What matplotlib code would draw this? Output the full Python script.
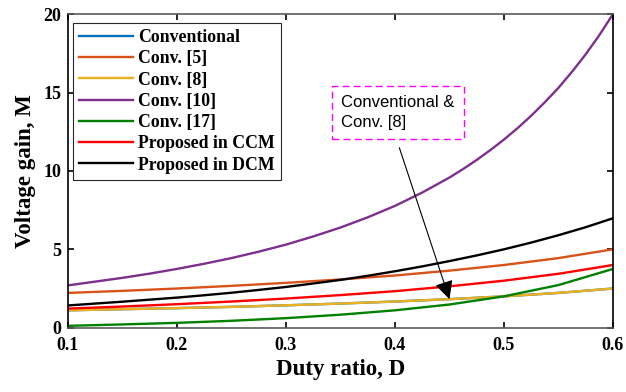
import matplotlib
matplotlib.use('Agg')
import matplotlib.pyplot as plt
import numpy as np

plt.rcParams['font.family'] = 'Liberation Serif'
plt.rcParams['font.weight'] = 'bold'

#duty ratio points
D = [0.10, 0.15, 0.20, 0.25, 0.30, 0.35, 0.40, 0.45, 0.50, 0.55, 0.60]
D_mid = [0.100, 0.125, 0.150, 0.175, 0.200, 0.225, 0.250, 0.275, 0.300, 0.325, 0.350,
         0.375, 0.400, 0.425, 0.450, 0.475, 0.500, 0.525, 0.550, 0.575, 0.600]
#finer grid for the steep curve
D_fine = [0.100, 0.125, 0.150, 0.175, 0.200, 0.225, 0.250, 0.275, 0.300, 0.325, 0.350,
          0.375, 0.400, 0.425, 0.450, 0.4625, 0.475, 0.4875, 0.500, 0.5125, 0.525,
          0.5375, 0.550, 0.5625, 0.575, 0.5875, 0.600]

#voltage gain of each converter
conventional = [1.11, 1.18, 1.25, 1.33, 1.43, 1.54, 1.67, 1.82, 2.00, 2.22, 2.50]
conv5 = [2.22, 2.35, 2.50, 2.67, 2.86, 3.08, 3.33, 3.64, 4.00, 4.44, 5.00]
conv8 = [1.11, 1.18, 1.25, 1.33, 1.43, 1.54, 1.67, 1.82, 2.00, 2.22, 2.50]
conv10 = [2.70, 2.94, 3.18, 3.45, 3.75, 4.08, 4.44, 4.85, 5.30, 5.82, 6.39,
          7.04, 7.77, 8.62, 9.58, 10.12, 10.70, 11.33, 12.00, 12.73, 13.52,
          14.38, 15.30, 16.33, 17.44, 18.66, 20.00]
conv17 = [0.12, 0.21, 0.31, 0.44, 0.61, 0.83, 1.11, 1.48, 2.00, 2.72, 3.75]
prop_ccm = [1.22, 1.35, 1.50, 1.67, 1.86, 2.08, 2.33, 2.64, 3.00, 3.44, 4.00]
prop_dcm = [1.42, 1.54, 1.66, 1.79, 1.92, 2.07, 2.23, 2.41, 2.60, 2.82, 3.05,
            3.31, 3.60, 3.91, 4.25, 4.61, 5.00, 5.43, 5.90, 6.41, 6.98]

xticks = [0.1, 0.2, 0.3, 0.4, 0.5, 0.6]
yticks = [0, 5, 10, 15, 20]

fig = plt.figure(figsize=(6.26, 3.92), dpi=100)
ax = fig.add_axes([0.1086, 0.164, 0.8706, 0.800])

lw = 1.7
ax.plot(D, conventional, color='#0072BD', lw=lw, label='Conventional')
ax.plot(D, conv5, color='#D95319', lw=lw, label='Conv. [5]')
ax.plot(D, conv8, color='#EDB120', lw=lw, label='Conv. [8]')
ax.plot(D_fine, conv10, color='#7E2F8E', lw=lw, label='Conv. [10]')
ax.plot(D, conv17, color='#008000', lw=lw, label='Conv. [17]')
ax.plot(D, prop_ccm, color='#FF0000', lw=lw, label='Proposed in CCM')
ax.plot(D_mid, prop_dcm, color='#000000', lw=lw, label='Proposed in DCM')

ax.set_xlim(0.1, 0.6)
ax.set_ylim(0, 20)
ax.set_xticks(xticks)
ax.set_yticks(yticks)
ax.set_xticklabels(['0.1', '0.2', '0.3', '0.4', '0.5', '0.6'])
ax.tick_params(direction='in', length=4, width=1.2, top=True, right=True,
               labelsize=13)
ax.tick_params(axis='x', pad=7)
ax.tick_params(axis='y', pad=5)
for s in ['left', 'right']:
    ax.spines[s].set_color('black')
    ax.spines[s].set_linewidth(1.2)
for s in ['top', 'bottom']:
    ax.spines[s].set_color('#5a5a5a')
    ax.spines[s].set_linewidth(1.2)

ax.set_xlabel('Duty ratio, D', fontsize=16.5, fontweight='bold', labelpad=3)
ax.set_ylabel('Voltage gain, M', fontsize=16.5, fontweight='bold', labelpad=5)

leg = ax.legend(loc='upper left', bbox_to_anchor=(0.0097, 0.972), borderaxespad=0,
                fontsize=12.8, handlelength=3.0, handletextpad=0.3,
                labelspacing=0.24, borderpad=0.35, fancybox=False, framealpha=1)
leg.get_frame().set_edgecolor('#262626')
leg.get_frame().set_linewidth(0.8)

#note for the overlapping curves
ax.text(0.3507, 13.72, 'Conventional &\nConv. [8]', family='Liberation Sans',
        fontweight='normal', fontsize=12, ha='left', va='center', linespacing=1.35,
        bbox=dict(boxstyle='square,pad=0.55', fc='white', ec='#FF00FF', lw=1.0,
                  ls=(0, (5, 3))))
ax.annotate('', xy=(0.45, 1.82), xytext=(0.404, 11.48),
            arrowprops=dict(arrowstyle='-|>', color='black', lw=0.8,
                            mutation_scale=28, shrinkA=0, shrinkB=0))

fig.savefig('out.png', dpi=100)
